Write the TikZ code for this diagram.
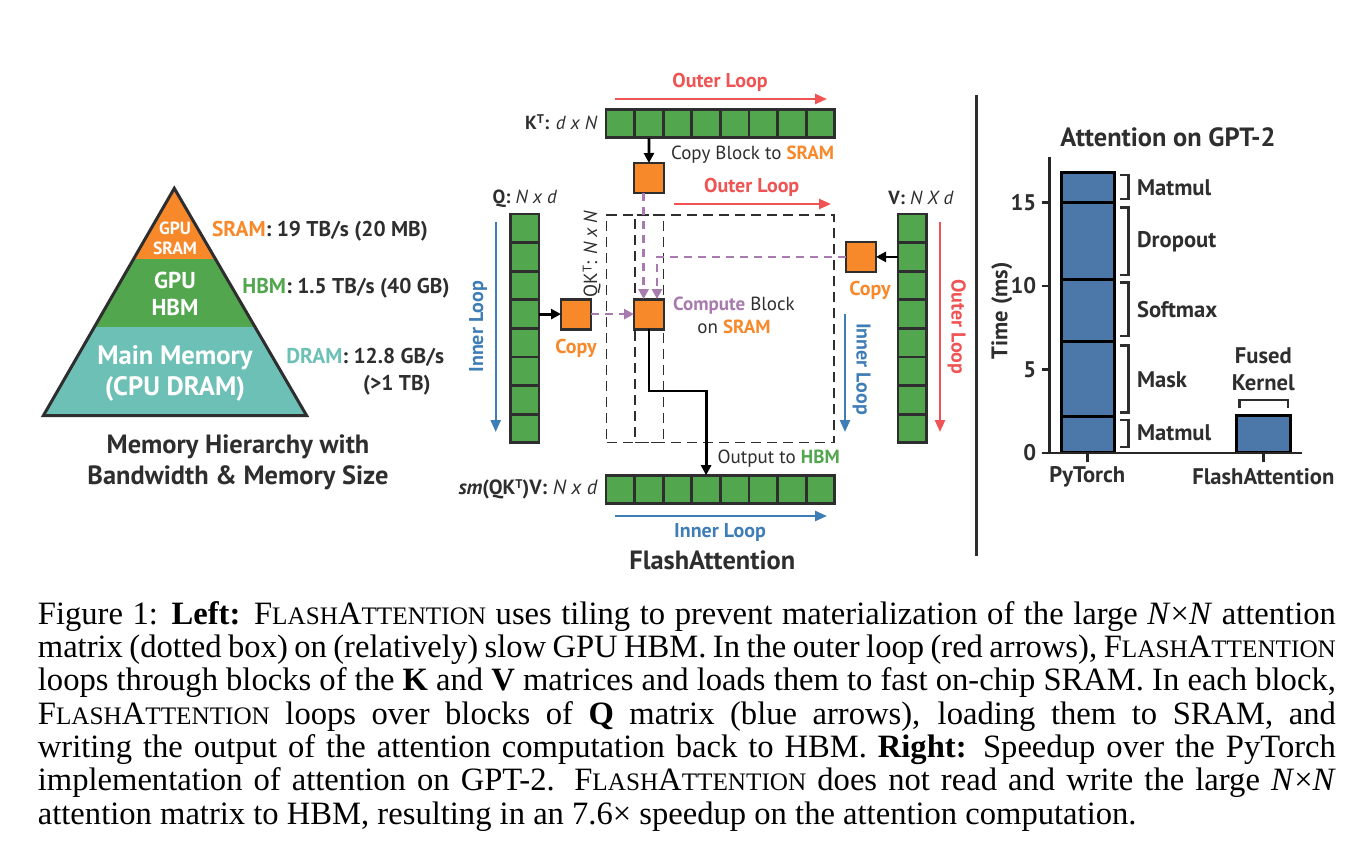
\documentclass[tikz,border=0pt]{standalone}
\usepackage{fontspec}
\setmainfont{PT Sans}
\newfontfamily\captionfont{Liberation Serif}
\usetikzlibrary{arrows.meta,positioning}
\definecolor{fadark}{HTML}{2E2E2E}
\definecolor{faorange}{HTML}{F7892B}
\definecolor{fagreen}{HTML}{52A64E}
\definecolor{fateal}{HTML}{6CC0B6}
\definecolor{fared}{HTML}{EF5353}
\definecolor{fablue}{HTML}{3E7DB6}
\definecolor{fapurple}{HTML}{A77BAE}
\definecolor{fabar}{HTML}{4B78A8}
\newcommand{\smc}[1]{{\fontsize{12.6pt}{14pt}\selectfont #1}}
\newcommand{\FA}{F\smc{LASH}A\smc{TTENTION}}
\newcommand{\supT}{\raisebox{0.6ex}{\fontsize{6.3}{7}\selectfont T}}
\begin{document}
\begin{tikzpicture}
[x=0.5pt,y=-0.5pt,
  celldecorate/.style={shape=rectangle,draw=fadark,fill=fagreen,line width=1.4pt,minimum size=14.3pt,inner sep=0pt,outer sep=0pt},%
  blockdecorate/.style={shape=rectangle,draw=fadark,fill=faorange,line width=1.4pt,minimum size=15pt,inner sep=0pt,outer sep=0pt},%
  boxdecorate/.style={shape=rectangle,draw=fadark,line width=0.7pt,dash pattern=on 5pt off 3pt,inner sep=0pt,outer sep=0pt},%
  linedecorate/.style={-{Triangle[length=5pt,width=5pt]},line width=1.4pt,black},%
  flowdecorate/.style={-{Triangle[length=5pt,width=5pt]},line width=1.3pt,fapurple,dash pattern=on 4pt off 3pt},%
  loopdecorate/.style={-{Triangle[length=6pt,width=5pt]},line width=1.2pt},%
  textdecorate/.style={text=fadark,inner sep=0pt,font=\fontsize{9.5}{11.5}\selectfont},%
  boldtext/.style={textdecorate,font=\fontsize{10}{12}\selectfont\bfseries},%
  speedtext/.style={textdecorate,font=\fontsize{10.7}{12}\selectfont\bfseries},%
  charttext/.style={text=fadark,inner sep=0pt,font=\fontsize{11.3}{13.5}\selectfont\bfseries},%
  bardecorate/.style={draw=black,fill=fabar,line width=1.5pt},%
  bracketdecorate/.style={draw=fadark,line width=1.2pt},%
  axisdecorate/.style={draw=black!85,line width=1.2pt},%
  captiontext/.style={inner sep=0pt,font=\captionfont\fontsize{16.3}{16.7}\selectfont}]
\useasboundingbox (0,0) rectangle (1355,857);
%% memory pyramid
\coordinate (apex) at (174.3,188.3);
\coordinate (baseleft) at (43.3,415.7);
\coordinate (baseright) at (306.7,415.7);
\begin{scope}
  \clip (apex) -- (baseleft) -- (baseright) -- cycle;
  \fill[faorange] (40,185) rectangle (310,259);
  \fill[fagreen] (40,259) rectangle (310,327);
  \fill[fateal] (40,327) rectangle (310,417);
\end{scope}
\draw[fadark,line width=1.5pt,line join=miter] (apex) -- (baseleft) -- (baseright) -- cycle;
\node (sramtier) at (175,238) [inner sep=0pt,text=white,align=center,font=\fontsize{8.8}{10}\selectfont\bfseries] {GPU\\SRAM};
\node (hbmtier) at (175,294) [inner sep=0pt,text=white,align=center,font=\fontsize{11.5}{13.5}\selectfont\bfseries] {GPU\\HBM};
\node (dramtier) at (175,373) [inner sep=0pt,text=white,align=center,font=\fontsize{13.3}{15.5}\selectfont\bfseries] {Main Memory\\(CPU DRAM)};
\node (sramspeed) at (211.7,231) [speedtext,anchor=west] {\textcolor{faorange}{SRAM}: 19 TB/s (20 MB)};
\node (hbmspeed) at (242,288) [speedtext,anchor=west] {\textcolor{fagreen}{HBM}: 1.5 TB/s (40 GB)};
\node (dramspeed) at (286,357.7) [speedtext,anchor=west] {\textcolor{fateal}{DRAM}: 12.8 GB/s};
\node (dramsize) at (362.7,385) [speedtext,anchor=west] {(>1 TB)};
\node (pyramidtitle) at (238,462.5) [textdecorate,align=center,font=\fontsize{13.2}{15.5}\selectfont\bfseries] {Memory Hierarchy with\\Bandwidth \& Memory Size};
%% attention matrix boxes
\node (qkbox) at (720.35,328.65) [boxdecorate,minimum width=113.65pt,minimum height=113.65pt] {};
\node (qkstrip) at (649.15,328.65) [boxdecorate,minimum width=14.15pt,minimum height=113.65pt] {};
%% matrix cells
\foreach \i in {1,...,8} {
  \node (k\i) at ({620.3+28.6*(\i-1)},123.5) [celldecorate] {};
  \node (q\i) at (524.7,{228.3+28.6*(\i-1)}) [celldecorate] {};
  \node (v\i) at (912.3,{228.3+28.6*(\i-1)}) [celldecorate] {};
  \node (o\i) at ({620.3+28.6*(\i-1)},489.5) [celldecorate] {};
}
%% sram blocks
\node (kblock) at (649,178) [blockdecorate] {};
\node (qblock) at (576,314.1) [blockdecorate] {};
\node (compute) at (649,314.1) [blockdecorate] {};
\node (vblock) at (861,256.9) [blockdecorate] {};
%% copies
\draw[linedecorate] (k2) -- (kblock);
\draw[linedecorate] (q4) -- (qblock);
\draw[linedecorate] (v2) -- (vblock);
\draw[flowdecorate] (qblock) -- (compute);
\draw[flowdecorate] ([xshift=-2.7pt]kblock.south) -- ([xshift=-2.7pt]compute.north);
\draw[flowdecorate] (vblock) -| ([xshift=4pt]compute.north);
\coordinate (outbend) at (706.1,391);
\draw[linedecorate,line join=miter] (compute) |- (outbend) -- (o4);
%% loops
\foreach \loopname/\sx/\sy/\ex/\ey/\loopcolor in {outerk/615/99/827/99/fared, outerqk/674/204/831/204/fared, innerq/495.7/222/495.7/432/fablue, innerv/845/314/845/432/fablue, outerv/940/222/940/432/fared, innero/615/516/827/516/fablue} {
  \coordinate (\loopname-s) at (\sx,\sy);
  \coordinate (\loopname-e) at (\ex,\ey);
  \draw[loopdecorate,\loopcolor] (\loopname-s) -- (\loopname-e);
}
\node (outerklabel) at (720,82) [boldtext,text=fared] {Outer Loop};
\node (outerqklabel) at (751.7,187) [boldtext,text=fared] {Outer Loop};
\node (innerqlabel) at (478,326.7) [boldtext,text=fablue,rotate=90] {Inner Loop};
\node (innervlabel) at (861.7,369) [boldtext,text=fablue,rotate=-90] {Inner Loop};
\node (outervlabel) at (956.7,326.7) [boldtext,text=fared,rotate=-90] {Outer Loop};
\node (innerolabel) at (720,532.3) [boldtext,text=fablue] {Inner Loop};
%% matrix labels
\node (klabel) at (598,122) [textdecorate,anchor=east] {\textbf{K\supT:} \textit{d x N}};
\node (qlabel) at (525,198.3) [textdecorate] {\textbf{Q:} \textit{N x d}};
\node (vlabel) at (921,198.3) [textdecorate] {\textbf{V:} \textit{N X d}};
\node (qklabel) at (591.7,254) [textdecorate,rotate=90] {QK\supT: \textit{N x N}};
\node (olabel) at (598.3,489.3) [textdecorate,anchor=east,font=\fontsize{10.3}{12}\selectfont] {\textbf{\textit{sm}(QK\supT)V:} \textit{N x d}};
\node (kcopylabel) at (670.7,155) [textdecorate,anchor=west] {Copy Block to \textbf{\textcolor{faorange}{SRAM}}};
\node (qcopylabel) [below=5pt of qblock,boldtext,text=faorange] {Copy};
\node (vcopylabel) at (870,290) [boldtext,text=faorange] {Copy};
\node (computelabel) at (734,315.5) [textdecorate,align=center] {\textbf{\textcolor{fapurple}{Compute}} Block\\on \textbf{\textcolor{faorange}{SRAM}}};
\node (outlabel) at (717.3,459) [textdecorate,anchor=west] {Output to \textbf{\textcolor{fagreen}{HBM}}};
\node (flashtitle) at (712.3,560) [textdecorate,font=\fontsize{13.2}{15}\selectfont\bfseries] {FlashAttention};
%% separator
\coordinate (septop) at (976.7,95);
\coordinate (sepbottom) at (976.7,556);
\draw[fadark,line width=1.3pt] (septop) -- (sepbottom);
%% runtime chart
\begin{scope}[shift={(1049.3,452.7)},yscale=-16.67]
  \foreach \lo/\hi in {0/2.16, 2.16/6.7, 6.7/10.4, 10.4/15, 15/16.8}
    \draw[bardecorate] (11.7,\lo) rectangle (65,\hi);
  \draw[bardecorate] (187.4,0) rectangle (240.7,2.25);
  \foreach \lo/\hi/\mid/\segname in {0.36/1.96/1.2/Matmul, 2.42/6.42/4.4/Mask, 7.0/10.2/8.6/Softmax, 10.66/14.72/12.65/Dropout, 15.22/16.65/15.92/Matmul} {
    \draw[bracketdecorate] (70.7,\hi) -- (79,\hi) -- (79,\lo) -- (70.7,\lo);
    \node (seg\segname\lo) at (87.4,\mid) [charttext,anchor=west] {\segname};
  }
  \draw[bracketdecorate] (190,2.66) -- (190,3.16) -- (238.4,3.16) -- (238.4,2.66);
  \node (fusedlabel) at (214,4.98) [charttext,align=center] {Fused\\Kernel};
  \draw[axisdecorate] (0,17.72) -- (0,0);
  \draw[axisdecorate] (-7.6,0) -- (252.4,0);
  \foreach \t in {0,5,10,15} {
    \draw[axisdecorate] (-7.6,\t) -- (0,\t);
    \node (tick\t) at (-12.6,\t) [charttext,anchor=east] {\t};
  }
  \draw[axisdecorate] (38,0) -- (38,-0.54);
  \draw[axisdecorate] (214,0) -- (214,-0.54);
  \node (pytorchlabel) at (38,-1.44) [charttext] {PyTorch};
  \node (flashlabel) at (214,-1.44) [charttext] {FlashAttention};
  \node (charttitle) at (118.7,18.94) [charttext,font=\fontsize{13.2}{15}\selectfont\bfseries] {Attention on GPT-2};
  \node (timelabel) at (-47.6,8.51) [charttext,rotate=90] {Time (ms)};
\end{scope}
%% caption
\node (cap1) at (37.5,624.3) [captiontext,anchor=base west] {\makebox[649pt][s]{Figure 1: \textbf{Left:} \FA{} uses tiling to prevent materialization of the large \textit{N}×\textit{N} attention}};
\node (cap2) at (37.5,657.6) [captiontext,anchor=base west] {\makebox[649pt][s]{matrix (dotted box) on (relatively) slow GPU HBM. In the outer loop (red arrows), \FA}};
\node (cap3) at (37.5,690.9) [captiontext,anchor=base west] {\makebox[649pt][s]{loops through blocks of the \textbf{K} and \textbf{V} matrices and loads them to fast on-chip SRAM. In each block,}};
\node (cap4) at (37.5,724.2) [captiontext,anchor=base west] {\makebox[649pt][s]{\FA{} loops over blocks of \textbf{Q} matrix (blue arrows), loading them to SRAM, and}};
\node (cap5) at (37.5,757.5) [captiontext,anchor=base west] {\makebox[649pt][s]{writing the output of the attention computation back to HBM. \textbf{Right:} Speedup over the PyTorch}};
\node (cap6) at (37.5,790.8) [captiontext,anchor=base west] {\makebox[649pt][s]{implementation of attention on GPT-2. \FA{} does not read and write the large \textit{N}×\textit{N}}};
\node (cap7) at (37.5,824.1) [captiontext,anchor=base west] {attention matrix to HBM, resulting in an 7.6× speedup on the attention computation.};
\end{tikzpicture}
\end{document}
